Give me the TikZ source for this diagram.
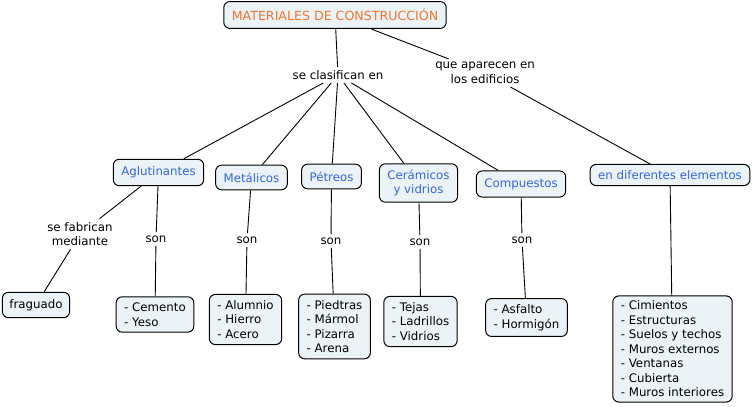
\documentclass[tikz,border=0pt]{standalone}
\usepackage{fontspec}
\setmainfont{DejaVu Sans}
\usetikzlibrary{positioning}

\definecolor{boxfill}{RGB}{236,243,247}
\definecolor{titleorange}{RGB}{238,118,48}
\definecolor{conceptblue}{RGB}{52,102,218}

\begin{document}
\begin{tikzpicture}[x=1pt,y=-1pt,-,line width=0.9pt,
  every node/.style={font=\fontsize{11.8}{14.5}\selectfont}]
  \tikzstyle{box}=[draw,rounded corners=6pt,fill=boxfill,line width=1pt,
    inner xsep=8pt,inner ysep=7.5pt,align=center]
  \tikzstyle{list}=[box,align=left,inner ysep=6pt]
  \tikzstyle{link}=[inner sep=3pt,align=center]
  \tikzstyle{concept}=[box,text=conceptblue]

  \useasboundingbox (0,0) rectangle (753,407);

  \node[box,text=titleorange,font=\fontsize{12.6}{14.5}\selectfont] (mat) at (335,15) {MATERIALES DE CONSTRUCCIÓN};
  \node[link] (clas) at (338,75) {se clasifican en};
  \node[link] (apar) at (485,73) {que aparecen en\\los edificios};

  \node[concept] (aglu) at (158.5,172.5) {Aglutinantes};
  \node[concept] (meta) at (251.5,177.5) {Metálicos};
  \node[concept] (petr) at (331.5,176.5) {Pétreos};
  \node[concept,inner ysep=6pt] (cera) at (418.5,183) {Cerámicos\\y vidrios};
  \node[concept] (comp) at (521,184) {Compuestos};
  \node[concept,inner ysep=6pt] (dife) at (670,175) {en diferentes elementos};

  \node[link] (fabr) at (80,234) {se fabrican\\mediante};
  \node[link] (son1) at (156,239) {son};
  \node[link] (son2) at (247,240) {son};
  \node[link] (son3) at (331,241) {son};
  \node[link] (son4) at (420,242) {son};
  \node[link] (son5) at (522,240) {son};

  \node[box,inner xsep=7pt,inner ysep=7pt] (frag) at (36,305) {fraguado};
  \node[list] (cem)  at (155,314.5) {- Cemento\\- Yeso};
  \node[list] (alu)  at (245.5,319.5) {- Alumnio\\- Hierro\\- Acero};
  \node[list] (pie)  at (334.5,326.5) {- Piedtras\\- Mármol\\- Pizarra\\- Arena};
  \node[list] (tej)  at (420.5,321.5) {- Tejas\\- Ladrillos\\- Vidrios};
  \node[list] (asf)  at (526.5,317.5) {- Asfalto\\- Hormigón};
  \node[list,inner ysep=5pt] (cim)  at (672.5,349) {- Cimientos\\- Estructuras\\- Suelos y techos\\- Muros externos\\- Ventanas\\- Cubierta\\- Muros interiores};

  \path (mat)  edge (clas)
               edge (apar)
        (clas) edge (aglu)
               edge (meta)
               edge (petr)
               edge (cera)
               edge (comp)
        (apar) edge (dife)
        (aglu) edge (fabr)
               edge (son1)
        (fabr) edge (frag)
        (son1) edge (cem)
        (meta) edge (son2)
        (son2) edge (alu)
        (petr) edge (son3)
        (son3) edge (pie)
        (cera) edge (son4)
        (son4) edge (tej)
        (comp) edge (son5)
        (son5) edge (asf)
        (dife) edge (cim);
\end{tikzpicture}
\end{document}
